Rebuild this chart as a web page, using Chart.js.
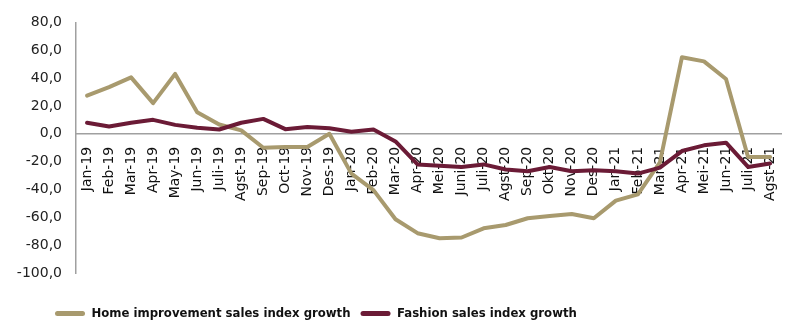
<!DOCTYPE html>
<html>
<head>
<meta charset="utf-8">
<script src="https://cdn.jsdelivr.net/npm/chart.js@4/dist/chart.umd.min.js"></script>
<style>
  html, body { margin: 0; padding: 0; background: #fff; }
  #wrap { width: 800px; height: 336px; }
</style>
</head>
<body>
<div id="wrap"><canvas id="growthChart"></canvas></div>
<script>
var months = ['Jan-19', 'Feb-19', 'Mar-19', 'Apr-19', 'May-19', 'Jun-19', 'Juli-19', 'Agst-19',
    'Sep-19', 'Oct-19', 'Nov-19', 'Des-19', 'Jan-20', 'Feb-20', 'Mar-20', 'Apr-20',
    'Mei-20', 'Juni-20', 'Juli-20', 'Agst-20', 'Sep-20', 'Okt-20', 'Nov-20', 'Des-20',
    'Jan-21', 'Feb-21', 'Mar-21', 'Apr-21', 'Mei-21', 'Jun-21', 'Juli-21', 'Agst-21'];

var homeImprovement = [27.4, 33.5, 40.5, 22.0, 43.0, 15.5, 6.7, 2.4,
    -10.0, -9.5, -9.5, 0.0, -28.6, -40.5, -61.4, -71.4,
    -75.0, -74.5, -67.9, -65.5, -60.7, -59.0, -57.6, -60.7,
    -48.0, -43.5, -20.5, 55.0, 52.0, 39.3, -16.7, -16.7];

var fashion = [7.9, 5.2, 7.9, 10.0, 6.4, 4.3, 3.1, 7.9,
    10.7, 3.3, 4.8, 4.0, 1.4, 3.1, -5.5, -22.0,
    -23.0, -23.8, -22.0, -25.7, -26.9, -23.8, -26.9, -26.2,
    -26.9, -28.6, -24.3, -12.4, -8.3, -6.4, -23.8, -21.4];

var seriesNames = ['Home improvement sales index growth', 'Fashion sales index growth'];
var seriesColors = ['#a89a6e', '#6b1b36'];

var yMin = -100, yMax = 80, yStep = 20;

// moves the legend to where the original sits (left of centre, lower)
var legendShift = {
    id: 'legendShift',
    afterLayout: function (chart) {
        var lg = chart.legend;
        var dx = 45 - lg.left, dy = 24;
        lg.left += dx; lg.right += dx;
        lg.top += dy; lg.bottom += dy;
    }
};

var ctx = document.getElementById('growthChart').getContext('2d');
var chart = new Chart(ctx, {
    type: 'line',
    data: {
        labels: months,
        datasets: [{
            label: seriesNames[0],
            data: homeImprovement,
            borderColor: seriesColors[0],
            backgroundColor: seriesColors[0],
            borderWidth: 4,
            borderJoinStyle: 'round',
            borderCapStyle: 'round',
            pointRadius: 0,
            tension: 0,
            order: 1
        }, {
            label: seriesNames[1],
            data: fashion,
            borderColor: seriesColors[1],
            backgroundColor: seriesColors[1],
            borderWidth: 4,
            borderJoinStyle: 'round',
            borderCapStyle: 'round',
            pointRadius: 0,
            tension: 0,
            order: 0
        }]
    },
    options: {
        responsive: true,
        maintainAspectRatio: false,
        animation: false,
        layout: { padding: { left: 0, right: 7.5, top: 18, bottom: 30 } },
        plugins: {
            tooltip: { enabled: false },
            legend: {
                position: 'bottom',
                align: 'start',
                labels: {
                    boxWidth: 30,
                    boxHeight: 5,
                    padding: 10,
                    useBorderRadius: true,
                    borderRadius: 2.5,
                    color: '#111',
                    font: { family: "'DejaVu Sans Condensed', sans-serif", size: 13, weight: 'bold' },
                    sort: function (a, b) { return a.datasetIndex - b.datasetIndex; },
                    generateLabels: function (chart) {
                        var items = Chart.defaults.plugins.legend.labels.generateLabels(chart);
                        items.forEach(function (it) { it.lineWidth = 0; });
                        return items;
                    }
                }
            }
        },
        scales: {
            x: {
                type: 'category',
                position: { y: 0 },
                offset: true,
                grid: { display: false, drawTicks: false },
                border: { display: true, color: '#a0a0a0', width: 1.5 },
                ticks: {
                    autoSkip: false,
                    minRotation: 90,
                    maxRotation: 90,
                    padding: 13,
                    color: '#111',
                    font: { family: "'DejaVu Sans', sans-serif", size: 14 }
                }
            },
            y: {
                min: yMin,
                max: yMax,
                afterFit: function (scale) { scale.width = 76; },
                grid: { display: false, drawTicks: false },
                border: { display: true, color: '#a0a0a0', width: 1.5 },
                ticks: {
                    stepSize: yStep,
                    padding: 14,
                    color: '#222',
                    font: { family: "'DejaVu Sans', sans-serif", size: 14 },
                    callback: function (v) { return v.toFixed(1).replace('.', ','); }
                }
            }
        }
    },
    plugins: [legendShift]
});
</script>
</body>
</html>
